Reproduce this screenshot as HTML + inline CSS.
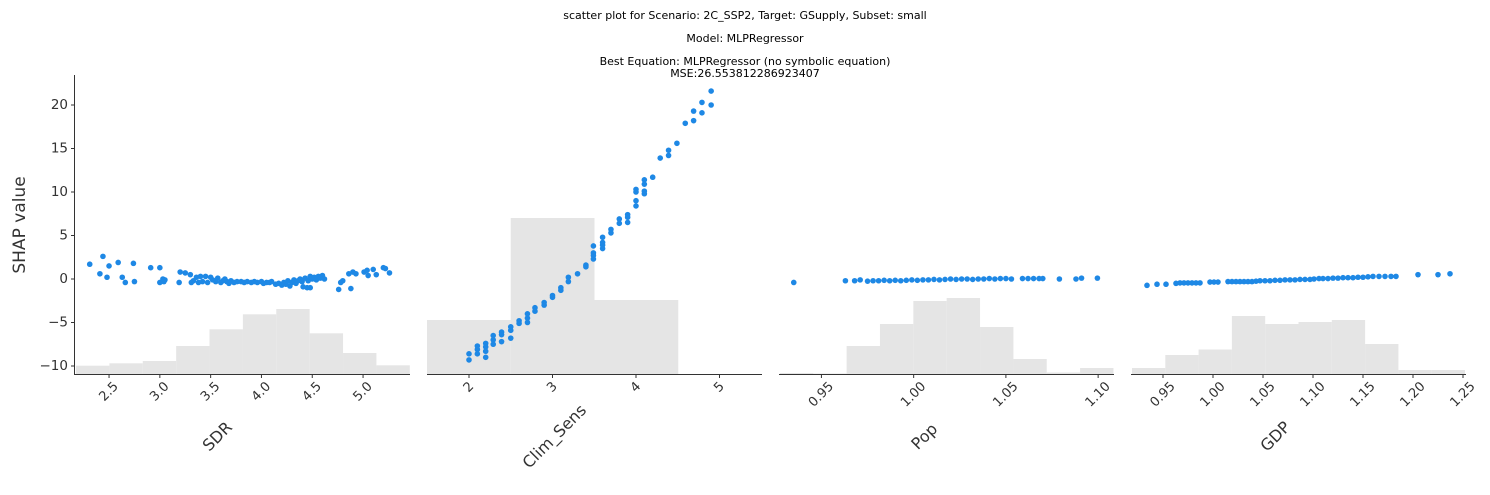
<!DOCTYPE html>
<html><head><meta charset="utf-8"><style>
html,body{margin:0;padding:0;background:#fff;}
svg{display:block;font-family:"DejaVu Sans","Liberation Sans",sans-serif;}
</style></head><body>
<svg id="chart" width="1490" height="495" viewBox="0 0 1490 495" xmlns="http://www.w3.org/2000/svg">
<g font-size="11" fill="#000" text-anchor="middle">
<text x="745" y="19">scatter plot for Scenario: 2C_SSP2, Target: GSupply, Subset: small</text>
<text x="745" y="42">Model: MLPRegressor</text>
<text x="745" y="65">Best Equation: MLPRegressor (no symbolic equation)</text>
<text x="745" y="77">MSE:26.553812286923407</text>
</g>
<text x="20" y="225" font-size="17" fill="#333" text-anchor="middle" dominant-baseline="middle" transform="rotate(-90 20 225)">SHAP value</text>
<g id="plots"></g>
</svg>
<script>
const yTicks = [20, 15, 10, 5, 0, -5, -10];
const featureNames = ["SDR", "Clim_Sens", "Pop", "GDP"];
const sdrTicks = ["2.5","3.0","3.5","4.0","4.5","5.0"];
const climTicks = ["2","3","4","5"];
const popTicks = ["0.95","1.00","1.05","1.10"];
const gdpTicks = ["0.95","1.00","1.05","1.10","1.15","1.20","1.25"];
const sdrHist = [8.3,10.7,13,28,44.7,59.7,65,40.7,21,8.7];
const climHist = [54,156,74,0];
const popHist = [1,0.5,28,50,73,76,47,15,1.5,6];
const gdpHist = [6,19,24.5,58,50,52,54,30,4,4];
const sdrPoints = [[2.31,1.7],[2.41,0.6],[2.44,2.6],[2.48,0.2],[2.50,1.5],[2.59,1.9],[2.63,0.2],[2.66,-0.4],[2.74,1.8],[2.75,-0.3],[2.91,1.3],[3.00,1.3],[3.00,-0.4],[3.03,0.0],[3.04,-0.3],[3.05,-0.1],[3.19,-0.4],[3.20,0.8],[3.25,0.7],[3.30,0.5],[3.31,-0.4],[3.33,-0.2],[3.36,0.2],[3.38,-0.4],[3.40,0.3],[3.42,-0.3],[3.45,0.3],[3.47,-0.4],[3.50,0.2],[3.52,-0.1],[3.55,-0.3],[3.57,0.1],[3.60,-0.4],[3.62,-0.2],[3.64,0.0],[3.66,-0.3],[3.68,-0.5],[3.70,-0.2],[3.73,-0.4],[3.76,-0.3],[3.80,-0.3],[3.83,-0.4],[3.86,-0.3],[3.90,-0.4],[3.93,-0.3],[3.96,-0.4],[4.00,-0.3],[4.02,-0.5],[4.05,-0.4],[4.08,-0.4],[4.10,-0.3],[4.14,-0.6],[4.17,-0.5],[4.20,-0.7],[4.22,-0.4],[4.24,-0.6],[4.26,-0.2],[4.28,-0.8],[4.30,-0.4],[4.32,-0.1],[4.34,-0.5],[4.36,-0.2],[4.38,0.0],[4.40,-0.3],[4.41,-0.9],[4.43,0.1],[4.45,-1.0],[4.46,-0.2],[4.48,-1.0],[4.48,0.3],[4.50,0.0],[4.52,0.2],[4.54,-0.1],[4.56,0.3],[4.58,0.1],[4.60,0.4],[4.62,0.0],[4.76,-1.2],[4.78,-0.4],[4.80,-0.2],[4.88,-1.1],[4.86,0.6],[4.90,0.8],[4.93,0.6],[5.01,0.8],[5.04,1.0],[5.05,0.4],[5.10,1.1],[5.13,0.5],[5.20,1.3],[5.22,1.2],[5.26,0.7]];
const climPoints = [[2.0,-8.6],[2.0,-9.3],[2.1,-7.7],[2.1,-8.1],[2.1,-8.6],[2.2,-7.4],[2.2,-7.8],[2.2,-8.3],[2.2,-9.0],[2.29,-6.5],[2.29,-7.0],[2.29,-7.5],[2.39,-6.1],[2.39,-6.4],[2.39,-7.2],[2.5,-5.5],[2.5,-5.9],[2.5,-6.8],[2.6,-4.8],[2.6,-5.1],[2.7,-4.0],[2.7,-4.5],[2.7,-5.0],[2.79,-3.3],[2.79,-3.7],[2.9,-2.7],[2.9,-3.0],[3.0,-1.9],[3.0,-2.1],[3.1,-1.0],[3.1,-1.3],[3.19,0.2],[3.19,-0.3],[3.3,0.6],[3.4,1.6],[3.4,1.4],[3.49,3.8],[3.49,3.0],[3.49,2.7],[3.49,2.3],[3.6,4.8],[3.6,4.2],[3.6,3.9],[3.6,3.5],[3.7,5.7],[3.7,5.3],[3.8,6.9],[3.8,6.4],[3.9,7.4],[3.9,7.1],[3.9,6.5],[4.0,10.3],[4.0,10.0],[4.0,9.0],[4.0,8.4],[4.1,11.4],[4.1,10.9],[4.1,10.1],[4.1,9.8],[4.2,11.7],[4.29,13.9],[4.39,14.8],[4.39,14.2],[4.49,15.6],[4.59,17.9],[4.69,19.3],[4.69,18.2],[4.79,20.3],[4.79,19.1],[4.9,21.6],[4.9,20.0]];
const popPoints = [[0.935,-0.4],[0.963,-0.2],[0.968,-0.2],[0.971,-0.1],[0.975,-0.25],[0.978,-0.2],[0.981,-0.2],[0.984,-0.15],[0.987,-0.2],[0.990,-0.15],[0.993,-0.2],[0.996,-0.15],[0.999,-0.1],[1.002,-0.15],[1.005,-0.1],[1.008,-0.1],[1.011,-0.05],[1.014,-0.1],[1.017,-0.05],[1.020,0.0],[1.023,-0.05],[1.026,0.0],[1.029,0.0],[1.032,-0.05],[1.035,0.0],[1.038,0.0],[1.041,0.05],[1.044,0.0],[1.047,0.05],[1.050,0.05],[1.053,0.0],[1.059,0.05],[1.062,0.05],[1.065,0.05],[1.068,0.05],[1.070,0.05],[1.079,0.0],[1.088,0.0],[1.091,0.1],[1.0996,0.1]];
const gdpPoints = [[0.934,-0.73],[0.944,-0.6],[0.953,-0.6],[0.963,-0.5],[0.967,-0.45],[0.971,-0.45],[0.975,-0.45],[0.979,-0.45],[0.983,-0.45],[0.987,-0.45],[0.997,-0.35],[1.001,-0.35],[1.005,-0.35],[1.015,-0.3],[1.019,-0.3],[1.023,-0.3],[1.027,-0.3],[1.031,-0.3],[1.035,-0.3],[1.039,-0.3],[1.043,-0.25],[1.047,-0.2],[1.052,-0.2],[1.057,-0.2],[1.062,-0.15],[1.067,-0.15],[1.072,-0.1],[1.077,-0.1],[1.082,-0.1],[1.087,-0.05],[1.092,-0.05],[1.097,-0.05],[1.101,0.0],[1.106,0.05],[1.110,0.05],[1.115,0.05],[1.120,0.1],[1.125,0.1],[1.130,0.15],[1.135,0.15],[1.140,0.15],[1.145,0.2],[1.150,0.2],[1.155,0.25],[1.160,0.3],[1.166,0.3],[1.172,0.3],[1.178,0.3],[1.183,0.3],[1.205,0.5],[1.225,0.5],[1.237,0.6]];

const NS = "http://www.w3.org/2000/svg";
const plots = document.getElementById("plots");
const BASE = 374;
function yScale(v){ return 279 - 8.7 * v; }
function mk(tag, attrs, parent){ const e = document.createElementNS(NS, tag); for (const k in attrs) e.setAttribute(k, attrs[k]); parent.appendChild(e); return e; }

const panels = [
  {name:"sdr", left:75, right:410, lo:2.165, hi:5.462, ticks:sdrTicks, hist:sdrHist, hLo:2.175, hHi:5.46, pts:sdrPoints, title:featureNames[0], tx:218},
  {name:"clim-sens", left:427, right:762, lo:1.497, hi:5.509, ticks:climTicks, hist:climHist, hLo:1.497, hHi:5.509, pts:climPoints, title:featureNames[1], tx:555},
  {name:"pop", left:779, right:1114, lo:0.927, hi:1.1086, ticks:popTicks, hist:popHist, hLo:0.9275, hHi:1.1083, pts:popPoints, title:featureNames[2], tx:925},
  {name:"gdp", left:1131, right:1466, lo:0.918, hi:1.253, ticks:gdpTicks, hist:gdpHist, hLo:0.919, hHi:1.252, pts:gdpPoints, title:featureNames[3], tx:1276}
];

panels.forEach((p, pi) => {
  const g = mk("g", {}, plots);
  
  
  const xs = v => p.left + (v - p.lo) / (p.hi - p.lo) * (p.right - p.left);
  const n = p.hist.length, bw = (p.hHi - p.hLo) / n;
  p.hist.forEach((c, i) => {
    if (c <= 0) return;
    const x0 = xs(p.hLo + i * bw), x1 = xs(p.hLo + (i + 1) * bw);
    const r = mk("rect", {x:x0, y:BASE - c, width:x1 - x0, height:c, fill:"#e5e5e5"}, g);
    
    
  });
  p.pts.forEach(pt => {
    const c = mk("circle", {cx:xs(pt[0]), cy:yScale(pt[1]), r:2.8, fill:"#1e88e5"}, g);
    
    
  });
  const ax = mk("line", {x1:p.left, x2:p.right, y1:BASE + 0.5, y2:BASE + 0.5, stroke:"#333", "stroke-width":1}, g);
  
  
  p.ticks.forEach(t => {
    const x = xs(parseFloat(t));
    mk("line", {x1:x, x2:x, y1:BASE, y2:BASE + 4, stroke:"#333", "stroke-width":1}, g);
    const tl = mk("text", {x:x, y:396, "font-size":13, fill:"#333", "text-anchor":"middle", "dominant-baseline":"middle"}, g);
    tl.textContent = t;
    
    
    const w = tl.getComputedTextLength ? tl.getComputedTextLength() : 20;
    const cy = 380 + (w + 13) * 0.707 / 2;
    tl.setAttribute("y", cy);
    tl.setAttribute("transform", `rotate(-45 ${x} ${cy})`);
  });
  const tt = mk("text", {x:p.tx, y:437, "font-size":16, fill:"#333", "text-anchor":"middle", "dominant-baseline":"middle", transform:`rotate(-45 ${p.tx} 437)`}, g);
  tt.textContent = p.title;
  
  
  if (pi === 0) {
    const ya = mk("line", {x1:p.left - 0.5, x2:p.left - 0.5, y1:75, y2:BASE + 1, stroke:"#333", "stroke-width":1}, g);
    
    
    yTicks.forEach(v => {
      const y = yScale(v);
      mk("line", {x1:p.left - 4, x2:p.left, y1:y, y2:y, stroke:"#333", "stroke-width":1}, g);
      const yl = mk("text", {x:p.left - 7, y:y, "font-size":13.5, fill:"#333", "text-anchor":"end", "dominant-baseline":"middle"}, g);
      yl.textContent = v < 0 ? "\u2212" + Math.abs(v) : String(v);
      
      
    });
  }
});
</script>
</body></html>
